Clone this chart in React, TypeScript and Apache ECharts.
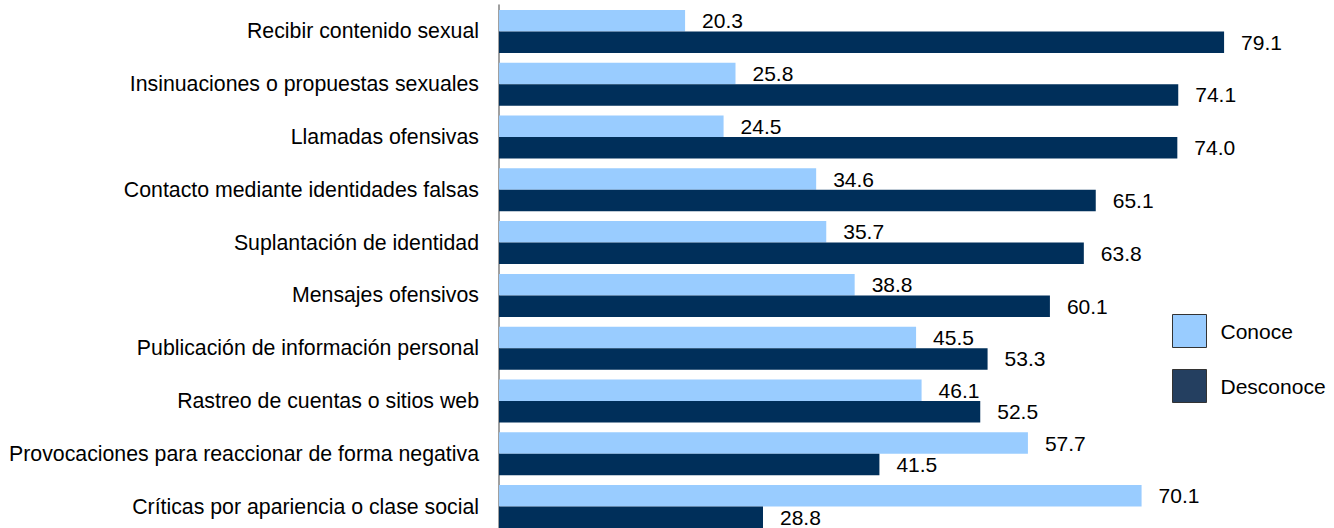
import React, { useEffect, useRef } from "react";
import * as echarts from "echarts";

const categories = [
  "Recibir contenido sexual",
  "Insinuaciones o propuestas sexuales",
  "Llamadas ofensivas",
  "Contacto mediante identidades falsas",
  "Suplantación de identidad",
  "Mensajes ofensivos",
  "Publicación de información personal",
  "Rastreo de cuentas o sitios web",
  "Provocaciones para reaccionar de forma negativa",
  "Críticas por apariencia o clase social",
];
const conoce = [20.3, 25.8, 24.5, 34.6, 35.7, 38.8, 45.5, 46.1, 57.7, 70.1];
const desconoce = [79.1, 74.1, 74.0, 65.1, 63.8, 60.1, 53.3, 52.5, 41.5, 28.8];

const FONT = "Liberation Sans, Arial, sans-serif";

export default function App() {
  const ref = useRef<HTMLDivElement>(null);
  useEffect(() => {
    document.body.style.margin = "0";
    const chart = echarts.init(ref.current!, null, { renderer: "svg" });
    const label = {
      show: true,
      position: "right",
      distance: 17,
      color: "#000",
      fontSize: 21,
      fontFamily: FONT,
      formatter: (p: any) => Number(p.value).toFixed(1),
    };
    chart.setOption({
      animation: false,
      textStyle: { fontFamily: FONT },
      grid: { left: 499, top: 5, right: 10, height: 528, containLabel: false },
      legend: {
        orient: "vertical",
        left: 1167,
        top: 309,
        itemWidth: 34,
        itemHeight: 33,
        itemGap: 21,
        icon: "rect",
        selectedMode: false,
        textStyle: { fontSize: 21, color: "#000", fontFamily: FONT, padding: [0, 0, 0, 9] },
        data: [
          { name: "Conoce", itemStyle: { color: "#99CCFF", borderColor: "#333", borderWidth: 1 } },
          { name: "Desconoce", itemStyle: { color: "#243F60", borderColor: "#333", borderWidth: 1 } },
        ],
      },
      xAxis: {
        type: "value",
        min: 0,
        max: 90,
        show: false,
      },
      yAxis: {
        type: "category",
        inverse: true,
        data: categories,
        axisLine: { show: true, lineStyle: { color: "#808080", width: 1.5 } },
        axisTick: { show: false },
        axisLabel: { fontSize: 21.3, color: "#000", margin: 20, fontFamily: FONT },
      },
      series: [
        {
          name: "Conoce",
          type: "bar",
          data: conoce,
          itemStyle: { color: "#99CCFF" },
          barGap: "0%",
          barCategoryGap: "18.5%",
          label,
        },
        {
          name: "Desconoce",
          type: "bar",
          data: desconoce,
          itemStyle: { color: "#002F5A" },
          barGap: "0%",
          barCategoryGap: "18.5%",
          label,
        },
      ],
    });
    return () => chart.dispose();
  }, []);
  return <div ref={ref} style={{ width: 1334, height: 540 }} />;
}
